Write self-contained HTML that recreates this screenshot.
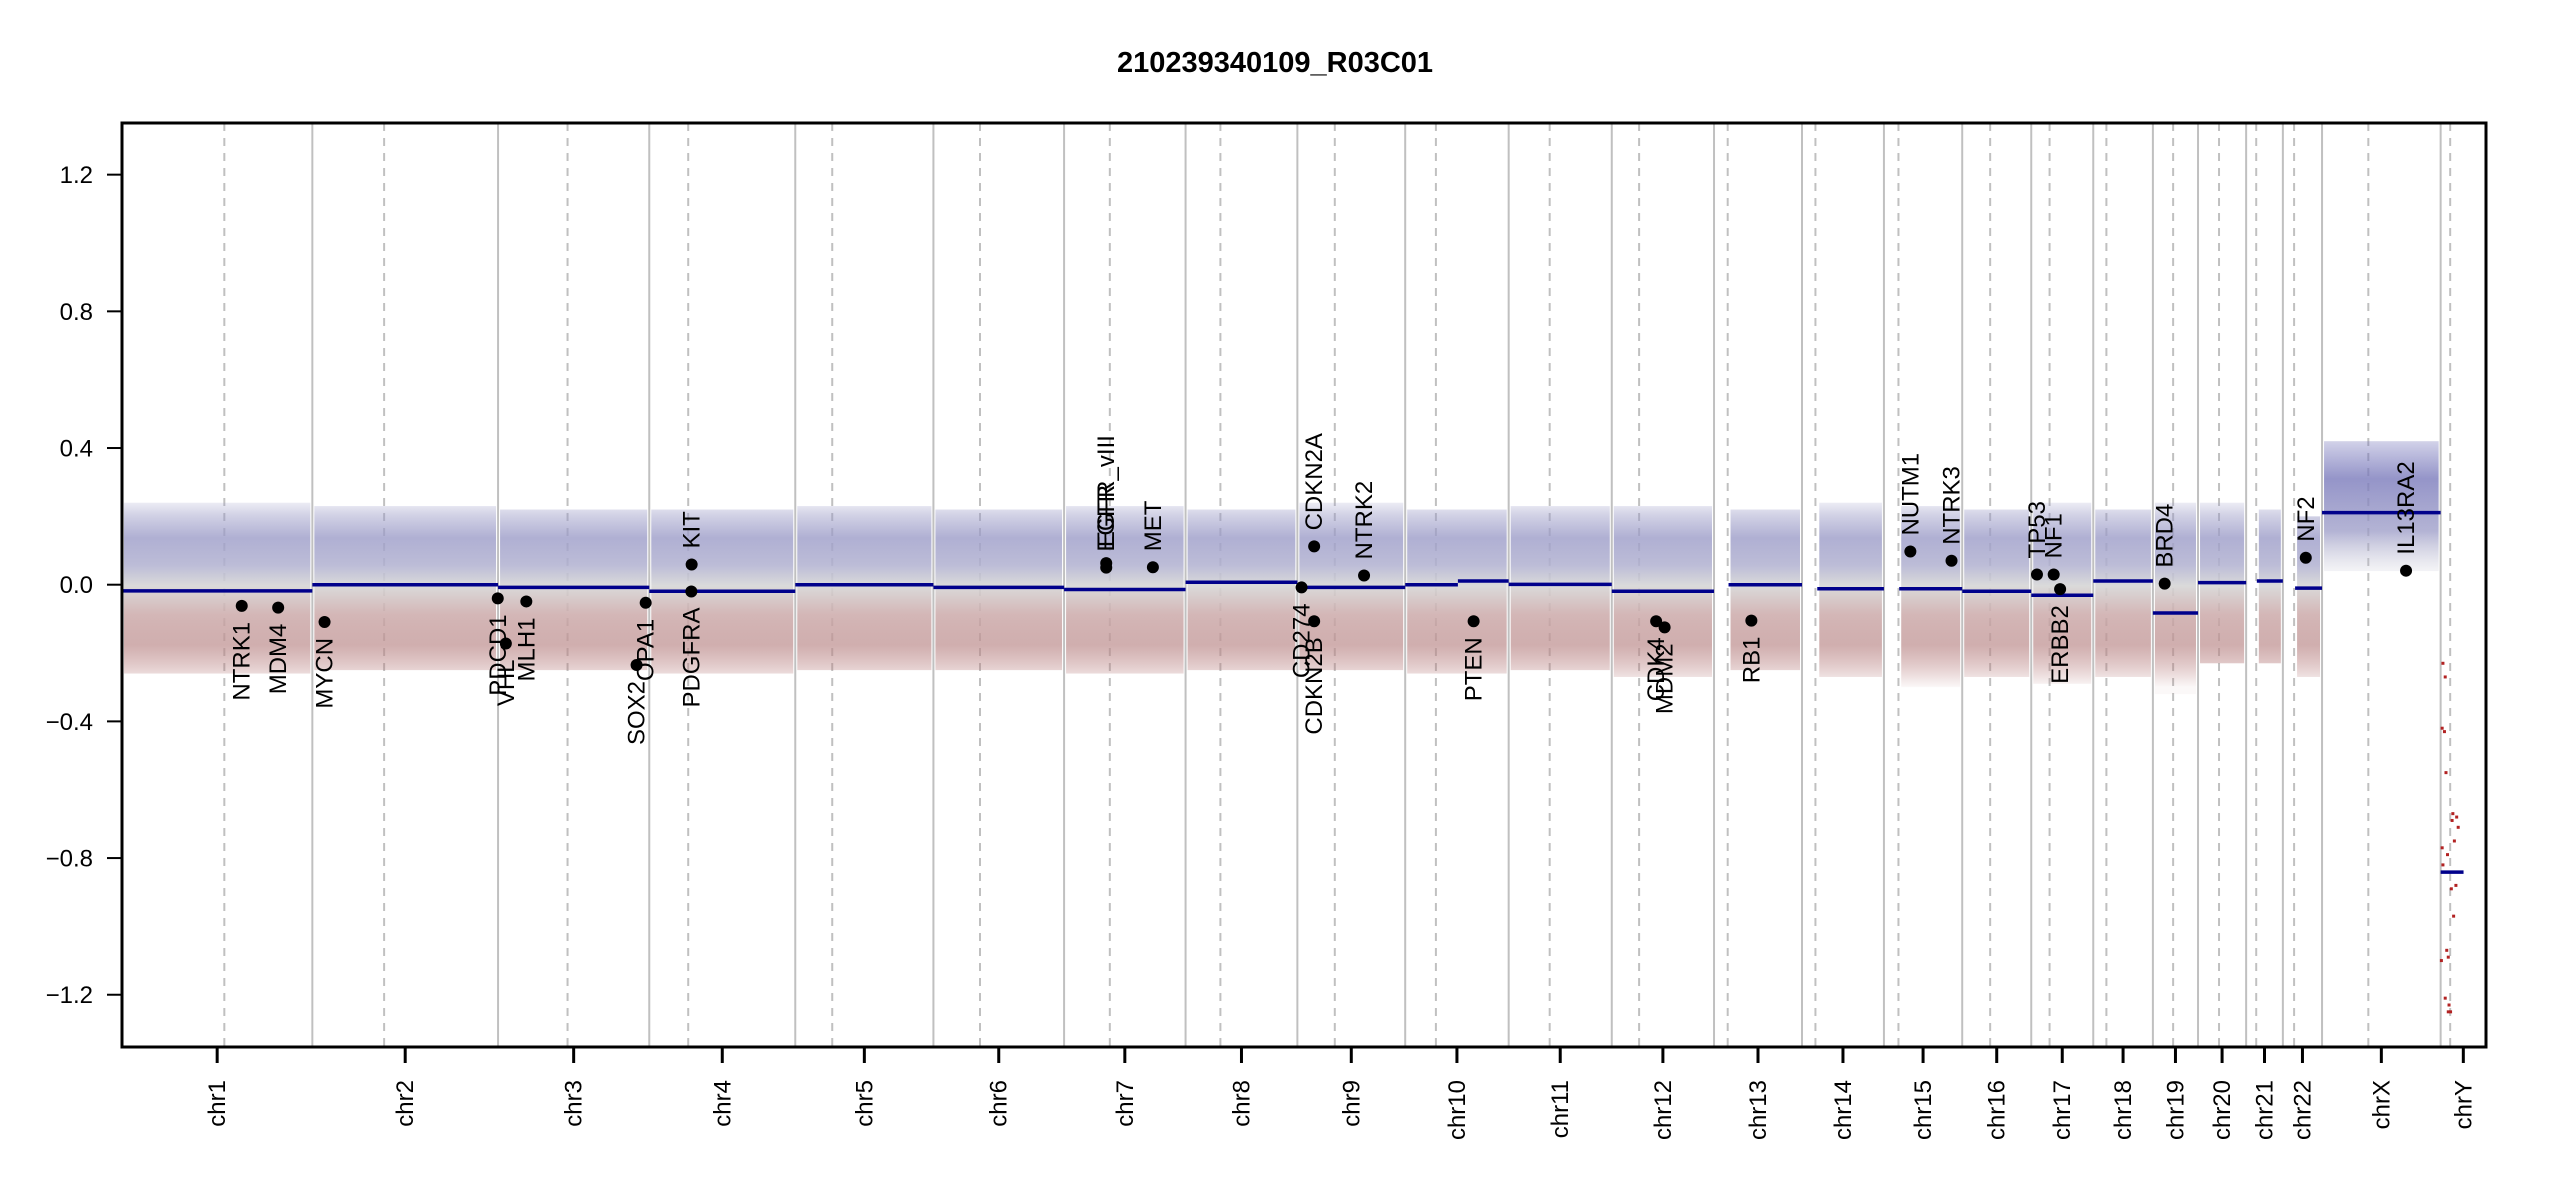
<!DOCTYPE html>
<html><head><meta charset="utf-8">
<style>
html,body{margin:0;padding:0;background:#fff;}
svg{display:block;font-family:"Liberation Sans",Arial,sans-serif;}
</style></head>
<body>
<svg id="chart" width="2550" height="1200" viewBox="0 0 2550 1200" xmlns="http://www.w3.org/2000/svg">
<defs>
<linearGradient id="gAuto" gradientUnits="userSpaceOnUse" x1="0" x2="0" y1="496" y2="687">
<stop offset="0" stop-color="#9a9ac8" stop-opacity="0.05"/>
<stop offset="0.1" stop-color="#9a9ac6" stop-opacity="0.45"/>
<stop offset="0.22" stop-color="#9c9cc8" stop-opacity="0.8"/>
<stop offset="0.36" stop-color="#b0b0d0" stop-opacity="0.85"/>
<stop offset="0.47" stop-color="#d6d6d6" stop-opacity="0.9"/>
<stop offset="0.62" stop-color="#ccaaaa" stop-opacity="0.85"/>
<stop offset="0.78" stop-color="#bc8c8c" stop-opacity="0.7"/>
<stop offset="0.9" stop-color="#b47878" stop-opacity="0.35"/>
<stop offset="1" stop-color="#b07070" stop-opacity="0.05"/>
</linearGradient>
<linearGradient id="gX" gradientUnits="userSpaceOnUse" x1="0" x2="0" y1="440" y2="570">
<stop offset="0" stop-color="#7070b8" stop-opacity="0.3"/>
<stop offset="0.3" stop-color="#7a7abb" stop-opacity="0.8"/>
<stop offset="0.7" stop-color="#9a9ac6" stop-opacity="0.75"/>
<stop offset="1" stop-color="#c0c0d0" stop-opacity="0.2"/>
</linearGradient>
</defs>
<text x="1275" y="72" text-anchor="middle" font-size="29" font-weight="bold">210239340109_R03C01</text>
<g id="grid"></g>
<g id="bands"></g>
<g id="segs"></g>
<g id="ypts"></g>
<g id="genes"></g>
<rect x="122" y="123" width="2364" height="924" fill="none" stroke="#000" stroke-width="3"/>
<g id="yaxis"></g>
<g id="xaxis"></g>
</svg>
<script>
// ---- data ----
const chroms = ["chr1","chr2","chr3","chr4","chr5","chr6","chr7","chr8","chr9","chr10","chr11","chr12","chr13","chr14","chr15","chr16","chr17","chr18","chr19","chr20","chr21","chr22","chrX","chrY"];
const chromLen = [249.25,243.2,198.0,191.2,180.9,171.1,159.1,146.4,141.2,135.5,135.0,133.9,115.2,107.3,102.5,90.4,81.2,78.1,59.1,63.0,48.1,51.3,155.3,59.4];
const centro = [134,94,91,51,48.4,61,59.9,45.6,49,40.2,53.7,35.8,17.9,17.6,19,36.6,24,17.2,26.5,27.5,13.2,14.7,60.6,12.5];
const bandStart = [0,0,0,0,0,0,0,0,0,0,0,0,19,20,20,0,0,0,0,0,14,16,0,0];
const bandTop = [0.24,0.23,0.22,0.22,0.23,0.22,0.23,0.22,0.24,0.22,0.23,0.23,0.22,0.24,0.23,0.22,0.24,0.22,0.24,0.24,0.22,0.2,0.42,0];
const bandBot = [-0.26,-0.25,-0.25,-0.26,-0.25,-0.25,-0.26,-0.25,-0.25,-0.26,-0.25,-0.27,-0.25,-0.27,-0.3,-0.27,-0.29,-0.27,-0.32,-0.23,-0.23,-0.27,0.04,0];
const segChrom = ["chr1","chr2","chr3","chr4","chr5","chr6","chr7","chr8","chr9","chr10","chr10","chr11","chr12","chr13","chr14","chr15","chr16","chr17","chr18","chr19","chr20","chr21","chr22","chrX","chrY"];
const segStart = [0,0,0,0,0,0,0,0,0,0,69,0,0,19,20,20,0,0,0,0,0,14,16,0,0];
const segEnd = [249.25,243.2,198.0,191.2,180.9,171.1,159.1,146.4,141.2,69,135.5,135.0,133.9,115.2,107.3,102.5,90.4,81.2,78.1,59.1,63.0,48.1,51.3,155.3,30];
const segValue = [-0.018,0.0,-0.008,-0.019,0.0,-0.008,-0.014,0.007,-0.008,0.0,0.011,0.001,-0.019,0.0,-0.012,-0.012,-0.019,-0.031,0.011,-0.083,0.006,0.011,-0.01,0.211,-0.841];
const geneNames = ["NTRK1","MDM4","MYCN","PDCD1","VHL","MLH1","SOX2","OPA1","PDGFRA","KIT","EGFR","EGFR_vIII","MET","CD274","CDKN2A","CDKN2B","NTRK2","PTEN","CDK4","MDM2","RB1","NUTM1","NTRK3","TP53","NF1","ERBB2","BRD4","NF2","IL13RA2"];
const geneChrom = ["chr1","chr1","chr2","chr2","chr3","chr3","chr3","chr3","chr4","chr4","chr7","chr7","chr7","chr9","chr9","chr9","chr9","chr10","chr12","chr12","chr13","chr15","chr15","chr17","chr17","chr17","chr19","chr22","chrX"];
const genePos = [156.8,204.5,16.0,242.8,10.2,37.0,181.4,193.3,55.1,55.5,55.2,55.2,116.3,5.5,21.97,21.97,87.3,89.6,58.1,69.2,48.9,34.6,88.5,7.5,29.4,37.8,15.4,30.0,110.0];
const geneValue = [-0.062,-0.067,-0.109,-0.04,-0.172,-0.049,-0.235,-0.053,-0.02,0.059,0.05,0.063,0.051,-0.008,0.112,-0.107,0.027,-0.107,-0.107,-0.125,-0.105,0.097,0.07,0.03,0.03,-0.013,0.003,0.079,0.041];
const yPos = [3,6,2,5,7,16,21,23,18,2,9,3,20,14,17,8,10,1,6,11,10,13,15];
const yVal = [-0.23,-0.27,-0.42,-0.43,-0.55,-0.67,-0.68,-0.71,-0.75,-0.77,-0.79,-0.82,-0.88,-0.89,-0.97,-1.07,-1.09,-1.10,-1.21,-1.23,-1.25,-1.25,-0.69];
const yTicks = [1.2,0.8,0.4,0.0,-0.4,-0.8,-1.2];
const yTickLabels = ["1.2","0.8","0.4","0.0","\u22120.4","\u22120.8","\u22121.2"];

// ---- scales ----
const X0 = 122, X1 = 2486;
const total = chromLen.reduce((a,b)=>a+b,0);
const pxPerMb = (X1 - X0) / total;
const chromStart = [];
let acc = 0;
chromLen.forEach(l => { chromStart.push(acc); acc += l; });
function xS(ch, mb){ const i = chroms.indexOf(ch); return X0 + (chromStart[i] + mb) * pxPerMb; }
function yS(v){ return 584.7 - v * 341.7; }
const NS = "http://www.w3.org/2000/svg";
function mk(tag, attrs, parent){ const e = document.createElementNS(NS, tag); for (const k in attrs) e.setAttribute(k, attrs[k]); parent.appendChild(e); return e; }

const grid = document.getElementById('grid');
const bands = document.getElementById('bands');
const segs = document.getElementById('segs');
const genes = document.getElementById('genes');
const ypts = document.getElementById('ypts');
const yaxis = document.getElementById('yaxis');
const xaxis = document.getElementById('xaxis');

chroms.forEach((c, i) => {
  if (i > 0) {
    const bx = xS(c, 0);
    const l = mk('line', {x1:bx, x2:bx, y1:123, y2:1047, stroke:'#c0c0c0', 'stroke-width':2}, grid);
    
    
  }
  const cx = xS(c, centro[i]);
  const d = mk('line', {x1:cx, x2:cx, y1:123, y2:1047, stroke:'#c0c0c0', 'stroke-width':2, 'stroke-dasharray':'8,7'}, grid);
  
  
  if (bandTop[i] !== bandBot[i]) {
    const bx0 = xS(c, bandStart[i]), bx1 = xS(c, chromLen[i]);
    const r = mk('rect', {x:bx0+2, y:yS(bandTop[i]), width:bx1-bx0-4, height:yS(bandBot[i])-yS(bandTop[i]), fill: c==='chrX' ? 'url(#gX)' : 'url(#gAuto)'}, bands);
    
    
  }
  const mid = xS(c, chromLen[i] / 2);
  const t = mk('line', {x1:mid, x2:mid, y1:1047, y2:1063, stroke:'#000', 'stroke-width':3}, xaxis);
  
  
  const lb = mk('text', {x:0, y:0, transform:`translate(${mid+8},1080) rotate(-90)`, 'text-anchor':'end', 'font-size':24}, xaxis);
  lb.textContent = c;
  
  
});

segChrom.forEach((c, i) => {
  const s = mk('line', {x1:xS(c, segStart[i]), x2:xS(c, segEnd[i]), y1:yS(segValue[i]), y2:yS(segValue[i]), stroke:'#00008b', 'stroke-width':3.5}, segs);
  
  
});

yPos.forEach((p, i) => {
  const r = mk('rect', {x:xS('chrY', p)-1.5, y:yS(yVal[i])-1.5, width:3, height:3, fill:'#b22222'}, ypts);
  
  
});

geneNames.forEach((g, i) => {
  const gx = xS(geneChrom[i], genePos[i]);
  const gy = yS(geneValue[i]);
  const dot = mk('circle', {cx:gx, cy:gy, r:6, fill:'#000'}, genes);
  
  
  const up = geneValue[i] > 0;
  const ty = up ? gy - 16 : gy + 16;
  const lt = mk('text', {x:0, y:0, transform:`translate(${gx+8},${ty}) rotate(-90)`, 'text-anchor': up ? 'start' : 'end', 'font-size':24}, genes);
  lt.textContent = g;
  
  
});

yTicks.forEach((v, i) => {
  const y = yS(v);
  const t = mk('line', {x1:107, x2:122, y1:y, y2:y, stroke:'#000', 'stroke-width':2}, yaxis);
  
  
  const l = mk('text', {x:93, y:y+8.5, 'text-anchor':'end', 'font-size':24}, yaxis);
  l.textContent = yTickLabels[i];
  
  
});
</script>
</body></html>
